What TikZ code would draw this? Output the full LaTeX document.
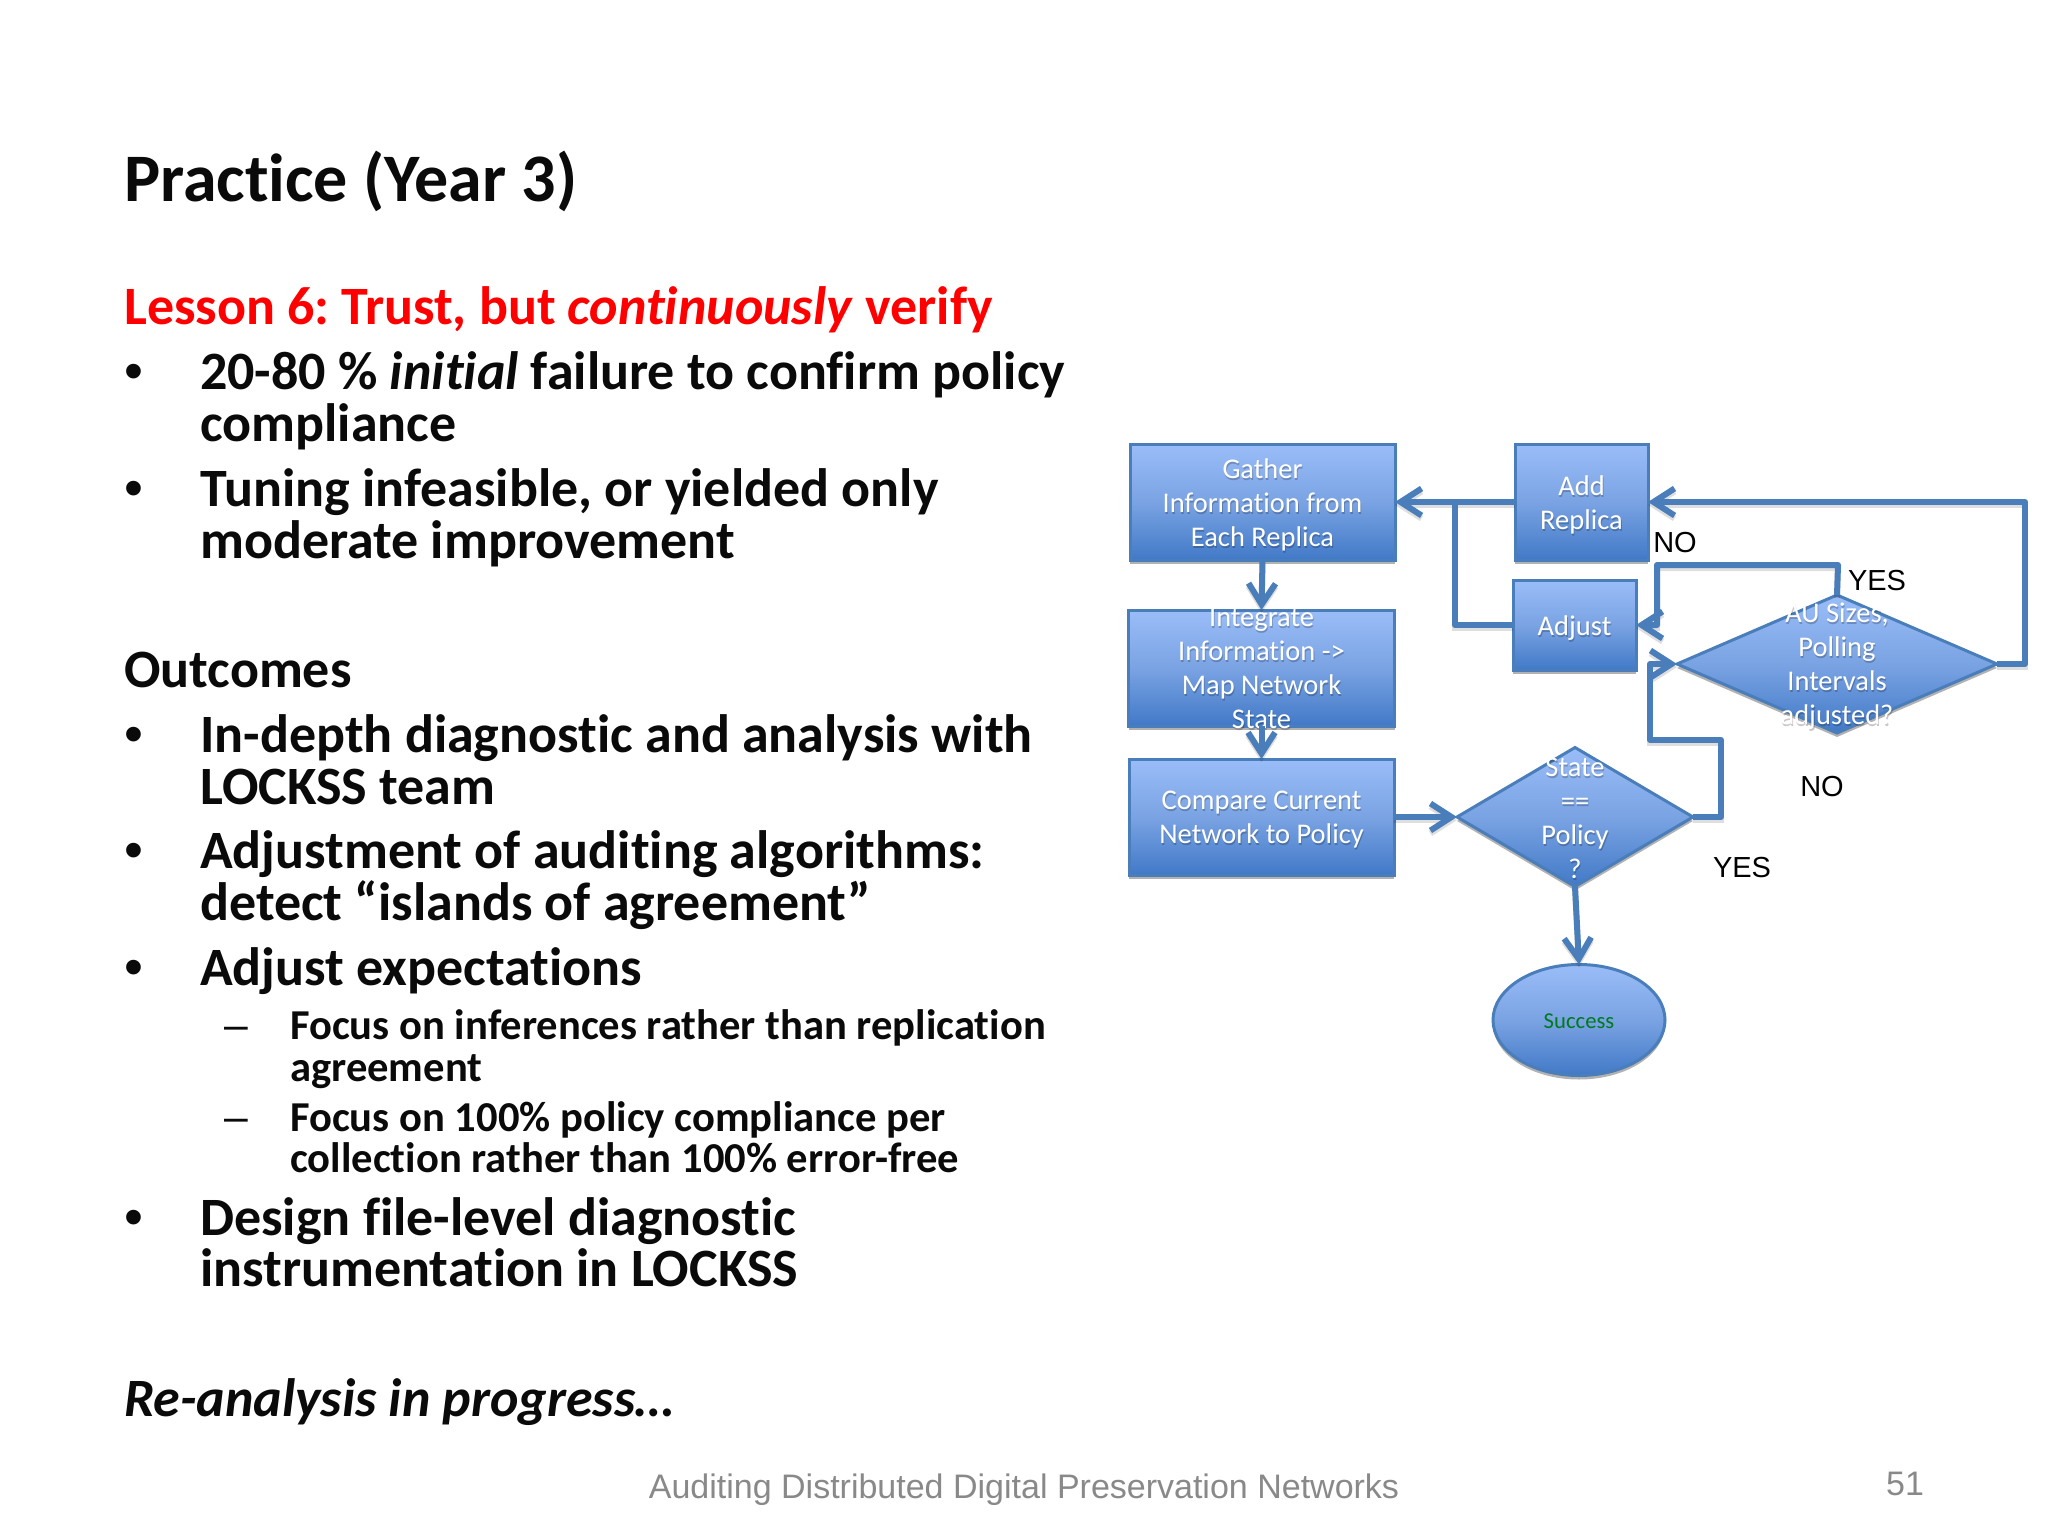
\documentclass[tikz,border=0pt]{standalone}
\usepackage{fontspec}
\setmainfont{Carlito}[Ligatures=NoCommon]
\newfontfamily\arialf{Liberation Sans}
\usetikzlibrary{arrows.meta,shapes.geometric,shadows}
\definecolor{flowtop}{HTML}{9ABDF8}
\definecolor{flowmid}{HTML}{7AA3E3}
\definecolor{flowbot}{HTML}{4179C7}
\definecolor{flowline}{HTML}{4A7EBB}
\definecolor{lessonred}{HTML}{FF0000}
\definecolor{footgray}{HTML}{898989}
\definecolor{successgreen}{HTML}{007A1E}
\definecolor{inktext}{HTML}{0A0A0A}
\newcommand{\blt}{{\arialf\mdseries •}}
\newcommand{\dsh}{{\arialf\mdseries –}}
\tikzset{
  x=1pt,y=-1pt,
  shapebase/.style={draw=flowline,line width=3pt,top color=flowtop,bottom color=flowbot,middle color=flowmid,
    inner sep=0pt,outer sep=0pt,drop shadow={shadow xshift=0pt,shadow yshift=-4pt,opacity=.3,fill=black}},
  flowrect/.style={shapebase,rectangle},
  flowdia/.style={shapebase,diamond},
  flowell/.style={shapebase,ellipse},
  flowtext/.style={text=white,font=\fontsize{28.5}{34}\selectfont,align=center,inner sep=0pt,yshift=-2.5pt},
  flowshadow/.style={flowtext,text=black,text opacity=.22,yshift=-2pt,xshift=.8pt},
  flowlabel/.style={label={[flowshadow]center:#1},label={[flowtext]center:#1}},
  plainlink/.style={draw=flowline,line width=6pt,line join=round,
    preaction={draw=black,opacity=.13,line width=6pt,transform canvas={yshift=-3pt}}},
  link/.style={plainlink,-{Straight Barb[length=21pt,width=27pt,line width=6pt]}},
  tag/.style={font=\arialf\fontsize{29}{34}\selectfont,text=black,inner sep=0pt},
  body/.style={anchor=base west,inner sep=0pt,text=inktext,font=\bfseries\fontsize{54}{56}\selectfont},
  subbody/.style={anchor=base west,inner sep=0pt,text=inktext,font=\bfseries\fontsize{42.6}{44}\selectfont},
}
\begin{document}
\begin{tikzpicture}
\useasboundingbox (0,0) rectangle (2048,1536);
\fill[white] (0,0) rectangle (2048,1536);
% left text
\node[body,font=\bfseries\fontsize{68}{70}\selectfont] (title) at (124,201) {Practice (Year 3)};
\node[body,text=lessonred] (lesson) at (124,324) {Lesson 6:\kern-5pt{} Trust, but \textit{continuously} verify};
\node[body] (b1) at (124,389.3) {\blt};
\node[body] (l1) at (200,389.3) {20-80 \% \textit{initial} failure to confirm policy};
\node[body] (l2) at (200,441.3) {compliance};
\node[body] (b2) at (124,506.3) {\blt};
\node[body] (l3) at (200,506.3) {Tuning infeasible, or yielded only};
\node[body] (l4) at (200,558.3) {moderate improvement};
\node[body] (out) at (124,687.3) {Outcomes};
\node[body] (b3) at (124,752.3) {\blt};
\node[body] (l5) at (200,752.3) {In-depth diagnostic and analysis with};
\node[body] (l6) at (200,804.3) {LOCKSS team};
\node[body] (b4) at (124,868.5) {\blt};
\node[body] (l7) at (200,868.5) {Adjustment of auditing algorithms:};
\node[body] (l8) at (200,920.5) {detect “islands of agreement”};
\node[body] (b5) at (124,985.3) {\blt};
\node[body] (l9) at (200,985.3) {Adjust expectations};
\node[subbody] (d1) at (224,1039) {\dsh};
\node[subbody] (s1) at (290,1039) {Focus on inferences rather than replication};
\node[subbody] (s2) at (290,1081) {agreement};
\node[subbody] (d2) at (224,1131) {\dsh};
\node[subbody] (s3) at (290,1131) {Focus on 100\% policy compliance per};
\node[subbody] (s4) at (290,1172) {collection rather than 100\% error-free};
\node[body] (b6) at (124,1235) {\blt};
\node[body] (l10) at (200,1235) {Design file-level diagnostic};
\node[body] (l11) at (200,1286) {instrumentation in LOCKSS};
\node[body,font=\bfseries\itshape\fontsize{54}{56}\selectfont] (re) at (124,1416) {Re-analysis in progress…};
% footer
\node[font=\arialf\fontsize{34}{36}\selectfont,text=footgray,inner sep=0pt] (foot) at (1024,1490) {Auditing Distributed Digital Preservation Networks};
\node[font=\arialf\fontsize{34}{36}\selectfont,text=footgray,inner sep=0pt] (page) at (1905,1484) {51};
% flow shapes
\node[flowrect,minimum width=265pt,minimum height=116pt,flowlabel={Gather\\Information from\\Each Replica}] (gather) at (1262.5,502) {};
\node[flowrect,minimum width=266pt,minimum height=116pt,label={[flowshadow,yshift=2pt]center:Integrate\\Information ->\\Map Network\\State},label={[flowtext,yshift=2pt]center:Integrate\\Information ->\\Map Network\\State}] (integrate) at (1261.5,668) {};
\node[flowrect,minimum width=265pt,minimum height=116pt,flowlabel={Compare Current\\Network to Policy}] (compare) at (1261.5,817) {};
\node[flowrect,minimum width=133pt,minimum height=116pt,flowlabel={Add\\Replica}] (add) at (1581.5,502) {};
\node[flowrect,minimum width=123pt,minimum height=90pt,label={[flowshadow,yshift=-1pt]center:Adjust},label={[flowtext,yshift=-1pt]center:Adjust}] (adjust) at (1574.5,625) {};
\node[flowdia,minimum width=320pt,minimum height=138pt,flowlabel={AU Sizes,\\Polling\\Intervals\\adjusted?}] (au) at (1837,664) {};
\node[flowdia,minimum width=236pt,minimum height=139pt,label={[flowshadow,yshift=1pt]center:State\\==\\Policy\\?},label={[flowtext,yshift=1pt]center:State\\==\\Policy\\?}] (state) at (1575,817) {};
\node[flowell,minimum width=172pt,minimum height=111pt,label={[flowtext,text=successgreen,font=\fontsize{22.7}{26}\selectfont,yshift=1.5pt]center:Success}] (success) at (1579,1020) {};
% connectors
\draw[link] (gather.south) -- (integrate.north);
\draw[link] (integrate.south) -- (compare.north);
\draw[link] (add.west) -- (gather.east);
\coordinate (addjoin) at (1455,502);
\draw[plainlink] (adjust.west) -| (addjoin);
\coordinate (aucorner) at (2025,502);
\draw[link] (au.east) -| (aucorner) -- (add.east);
\coordinate (yesup) at (1838,565);
\coordinate (yesleft) at (1657,565);
\coordinate (yesdown) at (1657,625);
\draw[link] (au.north) -- (yesup) -- (yesleft) -- (yesdown) -- (adjust.east);
\draw[link] (compare.east) -- (state.west);
\coordinate (s1c) at (1721,817);
\coordinate (s2c) at (1721,740);
\coordinate (s3c) at (1650,740);
\coordinate (s4c) at (1650,664);
\draw[link] (state.east) -- (s1c) -- (s2c) -- (s3c) -- (s4c) -- (au.west);
\draw[link] (state.south) -- (success.north);
% tags
\node[tag] (no1) at (1675,543) {NO};
\node[tag] (yes1) at (1877,581) {YES};
\node[tag] (no2) at (1822,787) {NO};
\node[tag] (yes2) at (1742,868) {YES};
\end{tikzpicture}
\end{document}
